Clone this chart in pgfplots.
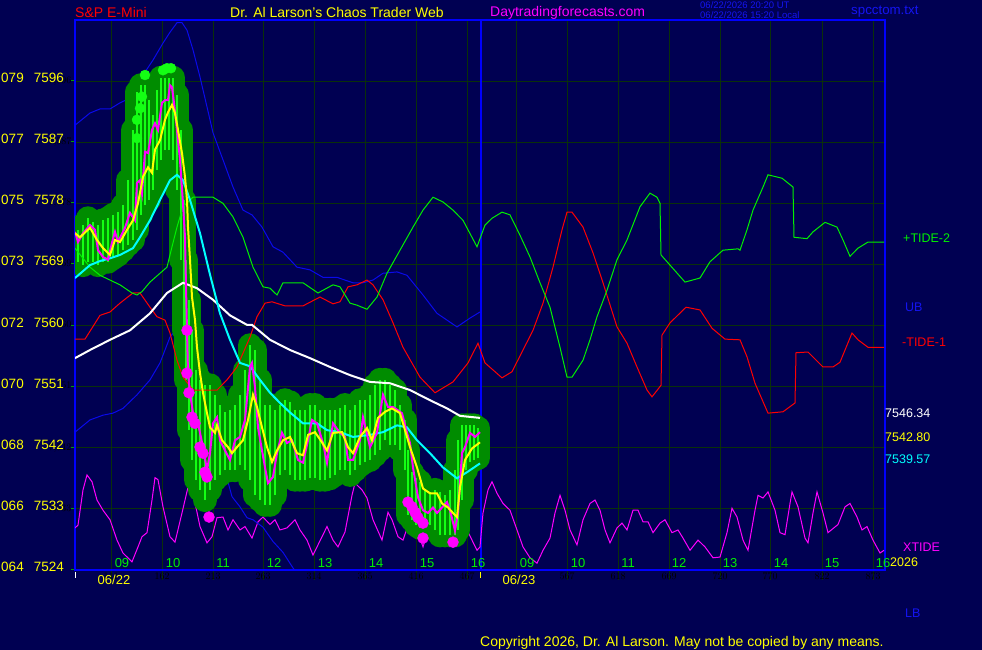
\documentclass[border=0pt]{standalone}
\usepackage{fontspec}
\setmainfont{Liberation Sans}
\usepackage{pgfplots}
\usepackage{pgfplotstable}
\pgfplotsset{compat=1.18}
\definecolor{bg}{RGB}{0,0,82}
\definecolor{gridc}{RGB}{10,48,10}
\definecolor{axblue}{RGB}{0,0,255}
\definecolor{bandblue}{RGB}{10,10,235}
\definecolor{txtblue}{RGB}{20,20,240}
\definecolor{dkg}{RGB}{0,140,0}
\definecolor{brg}{RGB}{20,255,20}
\definecolor{tideg}{RGB}{0,240,0}
\definecolor{tider}{RGB}{255,0,0}
\definecolor{mag}{RGB}{255,0,255}
\definecolor{yel}{RGB}{255,255,0}
\definecolor{cya}{RGB}{0,255,255}
\definecolor{tickg}{RGB}{0,160,0}

\pgfplotstableread{
x y
75 7589.5
90 7591.3
100 7591.9
110 7591.9
120 7592.8
130 7593.5
133 7594.4
143 7596.9
153 7599.1
163 7601.6
170 7603.2
177 7604.6
182 7604.6
187 7603.5
193 7600.6
200 7596.6
207 7592.2
213 7588.4
223 7584.4
233 7580.4
243 7577.0
252 7576.3
262 7574.5
273 7571.6
283 7570.8
297 7568.6
310 7568.2
323 7567.1
337 7567.1
353 7566.3
363 7566.3
373 7566.7
383 7567.7
397 7567.9
407 7567.4
423 7564.5
437 7561.8
457 7559.8
470 7561.1
480 7562.0
}\ubtab

\pgfplotstableread{
x y
75 7544.3
90 7546.1
103 7546.8
113 7547.1
123 7547.8
137 7549.8
150 7552.0
160 7554.5
170 7558.3
177 7559.6
182 7559.6
195 7554.9
210 7547.5
222 7540.2
232 7534.8
240 7533.3
247 7531.7
253 7531.4
263 7530.3
273 7528.2
283 7526.6
293 7524.3
297 7523.5
}\lbtab

\pgfplotstableread{
x y
75 7571.4
90 7568.6
100 7567.4
110 7566.7
120 7566.0
132 7564.8
137 7564.5
142 7565.0
150 7566.4
160 7567.7
167 7568.6
172 7571.6
177 7574.5
183 7577.5
193 7578.9
213 7578.9
223 7578.0
233 7576.0
243 7573.0
253 7568.6
263 7565.7
270 7565.5
277 7564.5
283 7566.3
303 7566.3
318 7564.8
333 7566.0
340 7565.7
350 7563.3
357 7563.0
367 7562.4
377 7564.2
387 7567.7
400 7571.1
413 7574.5
423 7577.0
433 7578.9
443 7578.2
453 7577.0
463 7575.5
477 7571.6
482 7573.6
485 7574.8
492 7575.8
502 7576.7
510 7576.3
520 7573.3
530 7570.1
540 7566.3
550 7562.7
560 7556.8
567 7552.4
572 7552.4
583 7554.9
590 7557.9
597 7561.3
607 7565.2
617 7569.7
627 7572.6
640 7577.5
650 7579.5
657 7578.9
660 7578.0
661 7570.4
670 7568.9
685 7566.4
700 7567.0
710 7569.4
723 7571.1
738 7571.3
740 7571.1
747 7574.1
753 7577.0
763 7580.4
768 7582.2
782 7581.7
793 7580.4
794 7573.0
807 7572.8
813 7573.8
825 7575.2
837 7574.5
843 7572.6
850 7570.2
858 7571.4
868 7572.3
884 7572.3
}\tidetwo

\pgfplotstableread{
x y
75 7558.0
85 7558.0
100 7561.5
110 7562.0
120 7563.3
133 7564.8
140 7564.8
150 7562.7
157 7561.3
165 7560.8
170 7558.9
177 7554.9
183 7552.4
193 7550.5
217 7550.5
227 7552.0
237 7553.9
250 7558.3
257 7561.3
265 7563.3
272 7563.5
285 7562.9
303 7562.9
320 7564.2
333 7563.2
340 7563.5
348 7565.7
357 7566.0
367 7566.7
373 7566.0
383 7563.8
393 7560.4
403 7556.8
420 7552.4
435 7550.1
453 7551.7
468 7554.5
478 7557.4
485 7554.5
502 7552.3
512 7553.2
523 7556.4
533 7559.3
543 7563.3
553 7568.6
562 7574.1
567 7576.7
572 7576.7
583 7574.5
593 7570.7
603 7566.3
617 7559.8
627 7557.4
637 7553.9
647 7550.5
652 7549.5
661 7551.2
662 7558.6
670 7560.4
686 7562.7
700 7562.3
712 7559.6
725 7558.0
740 7557.9
747 7555.4
755 7551.5
768 7547.1
783 7547.3
795 7548.6
796 7556.0
808 7556.1
823 7553.9
833 7553.9
840 7554.6
852 7558.9
858 7557.9
868 7556.8
884 7556.8
}\tideone

\pgfplotstableread{
x y
75 7555.2
90 7556.4
110 7557.9
130 7559.3
150 7561.8
167 7564.8
183 7566.3
197 7565.5
213 7563.8
230 7561.5
247 7560.1
252 7560.1
270 7557.9
290 7556.4
310 7555.2
330 7553.9
350 7552.7
370 7551.7
390 7551.5
410 7550.5
430 7549.0
447 7547.8
460 7546.7
480 7546.4
}\whitetab

\pgfplotstableread{
x y
75 7567.0
90 7568.9
100 7569.5
110 7569.9
120 7570.4
133 7571.4
140 7573.0
150 7575.5
160 7578.5
170 7581.4
177 7582.2
183 7581.4
190 7578.5
200 7573.6
210 7567.5
220 7561.8
230 7557.9
240 7554.5
250 7554.0
260 7552.0
270 7550.1
280 7548.6
290 7547.2
303 7545.6
317 7545.6
327 7544.6
340 7544.3
353 7543.6
370 7543.9
383 7544.3
397 7545.3
407 7545.0
417 7543.1
430 7541.2
443 7539.1
457 7537.5
467 7538.4
480 7539.7
}\cyantab

\pgfplotstableread{
x y
75 7573.6
80 7573.0
90 7574.4
97 7572.6
103 7571.4
110 7570.4
115 7572.6
120 7572.3
127 7574.1
133 7575.5
138 7578.0
143 7581.9
148 7583.3
152 7582.5
155 7585.9
160 7587.3
165 7590.3
168 7591.4
172 7592.5
175 7591.3
178 7588.8
182 7585.4
185 7581.9
187 7578.5
188 7574.5
190 7569.7
192 7564.2
195 7560.8
197 7556.8
200 7553.0
203 7550.1
207 7547.1
210 7545.0
215 7544.2
217 7545.3
222 7543.1
228 7542.1
232 7541.2
237 7542.1
243 7543.1
248 7546.1
253 7549.8
257 7548.0
262 7545.0
267 7542.1
272 7539.9
277 7541.6
283 7543.1
290 7543.6
297 7541.2
303 7540.9
308 7543.9
315 7544.3
322 7542.8
327 7541.6
333 7544.2
342 7544.3
348 7542.1
353 7541.2
360 7543.6
367 7544.9
372 7543.1
378 7546.4
385 7547.3
392 7547.8
400 7547.1
405 7544.6
410 7542.1
417 7539.1
423 7536.0
430 7535.3
437 7535.3
442 7533.8
448 7533.2
453 7532.4
457 7531.8
460 7536.2
465 7540.2
472 7541.9
480 7542.8
}\yeltab

\pgfplotstableread{
x y
75 7573.8
78 7572.3
83 7573.6
90 7574.8
95 7574.1
98 7571.1
103 7570.1
108 7569.7
112 7572.2
115 7573.8
118 7572.3
125 7574.4
130 7576.6
135 7575.5
137 7581.0
140 7581.4
142 7579.5
145 7585.6
148 7585.4
152 7588.8
155 7589.8
158 7588.8
162 7592.8
165 7593.2
168 7593.2
170 7595.4
172 7595.1
174 7592.8
177 7588.8
180 7584.4
183 7578.0
185 7573.0
186 7565.7
187 7559.3
188 7553.0
190 7550.1
193 7547.1
198 7545.6
203 7542.1
207 7538.7
210 7541.2
213 7545.6
217 7546.5
220 7543.1
225 7541.6
230 7540.2
235 7543.1
240 7543.6
245 7546.1
250 7553.9
252 7554.5
255 7550.9
258 7545.0
265 7539.1
268 7536.8
273 7537.7
277 7541.2
282 7544.2
287 7542.7
292 7543.1
298 7540.2
303 7539.8
308 7543.1
312 7546.1
317 7545.6
323 7542.7
327 7539.8
333 7545.6
340 7544.2
345 7543.6
348 7540.2
353 7540.2
360 7543.1
363 7546.5
370 7542.1
377 7544.2
383 7549.8
388 7548.0
393 7548.0
402 7547.1
407 7544.2
410 7542.7
413 7539.1
418 7534.7
423 7532.8
428 7532.4
433 7533.2
437 7532.4
442 7533.2
447 7534.0
450 7532.8
455 7529.8
458 7532.4
462 7541.2
465 7542.1
470 7544.2
475 7543.6
480 7544.3
}\pricetab

\pgfplotstableread{
x hi lo
78 7574.1 7569.4
83 7574.8 7568.9
88 7575.8 7569.4
93 7575.2 7569.4
98 7574.8 7568.9
103 7575.5 7569.4
108 7575.8 7569.4
113 7576.3 7569.9
118 7576.7 7570.4
123 7577.7 7571.1
128 7581.4 7571.9
133 7588.8 7572.6
137 7594.4 7574.1
141 7595.4 7576.3
145 7595.4 7577.7
149 7593.2 7578.5
153 7591.0 7580.0
157 7594.7 7582.9
161 7596.5 7584.4
165 7596.5 7585.9
169 7596.5 7585.9
173 7596.5 7584.4
177 7594.0 7580.0
181 7588.8 7569.7
184 7578.5 7559.3
186 7569.7 7552.0
189 7563.8 7544.6
192 7559.3 7540.2
196 7553.4 7537.3
200 7552.0 7535.8
205 7551.2 7534.3
210 7551.2 7535.8
215 7549.8 7537.3
220 7548.3 7538.0
225 7547.3 7538.7
230 7547.6 7538.7
235 7548.3 7538.7
240 7549.8 7539.4
245 7553.4 7538.7
250 7557.1 7537.3
255 7556.4 7535.0
260 7552.0 7534.3
265 7548.3 7533.6
270 7548.3 7533.6
275 7547.6 7535.0
280 7548.3 7538.0
285 7549.0 7538.7
290 7548.7 7538.0
295 7547.6 7537.3
300 7547.6 7537.3
305 7547.6 7537.3
310 7548.3 7537.5
315 7548.3 7537.5
320 7547.6 7537.3
325 7547.6 7537.3
330 7547.6 7537.5
335 7547.6 7538.0
340 7547.8 7538.7
345 7548.3 7538.7
350 7547.6 7538.0
355 7548.3 7538.7
360 7549.0 7539.4
365 7549.0 7539.9
370 7549.8 7540.2
375 7551.2 7540.9
380 7552.0 7541.7
385 7552.0 7543.1
390 7551.2 7542.4
395 7550.5 7542.4
400 7548.3 7541.7
405 7546.1 7538.7
408 7541.7 7532.1
412 7538.4 7531.4
416 7537.5 7530.6
420 7537.0 7530.2
425 7535.8 7530.6
430 7535.5 7530.6
435 7535.8 7529.9
440 7535.5 7529.1
445 7535.0 7529.1
450 7535.8 7529.1
455 7538.7 7529.1
458 7543.1 7529.9
462 7545.3 7534.3
466 7545.3 7538.7
470 7545.3 7539.9
474 7545.3 7540.2
478 7544.9 7540.5
}\bars

\pgfplotstableread{
x y
187 7559.3
187 7553.0
189 7550.1
192 7546.5
195 7545.6
200 7542.1
203 7541.2
205 7538.4
207 7537.7
209 7531.8
408 7534.0
412 7533.3
415 7532.5
418 7531.7
423 7530.9
423 7528.7
453 7528.1
}\magdots

\pgfplotstableread{
x y
145 7596.9
142 7593.7
140 7592.0
137 7590.3
137 7587.6
163 7597.6
167 7597.9
171 7597.9
}\grndots

\pgfplotstableread{
x y
75 7530.2
78 7530.6
83 7535.8
87 7538.0
92 7537.0
97 7534.3
103 7532.8
110 7531.4
117 7528.4
123 7526.5
132 7525.2
138 7527.4
142 7528.9
147 7529.5
152 7534.3
155 7537.6
158 7537.3
163 7533.3
170 7528.9
175 7528.1
182 7532.4
188 7536.2
193 7535.3
200 7530.4
207 7528.0
212 7528.9
217 7531.7
223 7531.8
228 7529.9
233 7531.4
240 7529.9
245 7530.4
252 7528.7
258 7531.1
263 7531.8
270 7530.7
275 7531.4
280 7529.9
287 7530.2
295 7531.4
300 7529.9
307 7528.4
313 7526.2
322 7528.9
327 7530.4
333 7528.4
338 7527.4
345 7529.6
352 7535.0
355 7536.8
362 7535.8
367 7534.6
373 7531.4
382 7528.4
388 7532.5
392 7531.4
398 7528.9
403 7528.4
410 7531.4
415 7530.9
423 7527.4
430 7530.6
445 7532.1
455 7531.4
467 7529.9
477 7526.9
480 7527.4
483 7532.4
488 7535.8
492 7537.0
497 7535.3
503 7533.8
510 7532.8
517 7529.9
523 7527.4
530 7525.8
537 7525.0
543 7526.9
550 7528.7
555 7532.4
560 7535.0
565 7532.8
570 7529.9
577 7527.7
583 7531.4
590 7533.8
595 7534.3
600 7532.8
605 7529.9
610 7528.0
617 7530.2
622 7530.9
627 7529.9
633 7532.8
638 7532.8
643 7531.1
648 7531.1
653 7529.5
660 7530.9
665 7531.4
672 7529.5
678 7529.9
683 7528.7
690 7526.9
698 7528.4
705 7527.4
713 7525.8
720 7525.9
727 7529.5
732 7533.1
737 7531.8
743 7528.4
748 7526.9
755 7532.8
758 7535.0
763 7534.6
768 7535.5
775 7532.8
780 7529.5
785 7529.2
790 7533.8
792 7535.5
798 7533.3
805 7528.7
808 7528.0
813 7532.4
817 7535.5
823 7532.4
828 7529.5
838 7530.7
845 7533.3
850 7533.8
857 7531.8
862 7529.9
867 7530.4
873 7528.4
880 7526.5
884 7526.9
}\xtide

\begin{document}
\begin{tikzpicture}[x=1pt,y=1pt]
\useasboundingbox (0,0) rectangle (982,650);
\fill[bg] (0,0) rectangle (982,650);
% grid extensions below axis
\foreach \gx in {111,162,213,263,314,365,416,467,516,567,618,669,720,770,822,873}
  \draw[gridc, line width=1pt] (\gx,80) -- (\gx,70);
\foreach \gy in {81,142,203,264,326,387,448,509,570}
  \draw[tickg, line width=1pt] (71,650-\gy) -- (75,650-\gy);
\draw[white, line width=1pt] (75.5,78) -- (75.5,72);
\draw[yel, line width=1pt] (480.5,78) -- (480.5,72);

\begin{axis}[
  at={(75pt,80pt)}, anchor=south west, scale only axis,
  width=810pt, height=550pt,
  xmin=75, xmax=885, ymin=7524, ymax=7605,
  xtick={111,162,213,263,314,365,416,467,516,567,618,669,720,770,822,873},
  ytick={7533,7542,7551,7560,7569,7578,7587,7596},
  xticklabel={}, yticklabel={},
  tick style={draw=none},
  grid=major, grid style={draw=gridc, line width=1pt},
  axis line style={draw=axblue, line width=2.5pt},
  clip=true,
]
\draw[axblue, line width=2pt] (axis cs:480.5,7524) -- (axis cs:480.5,7605);
\addplot[mag, line width=1pt, mark=none] table {\xtide};
\addplot[bandblue, line width=1pt, mark=none] table {\ubtab};
\addplot[bandblue, line width=1pt, mark=none] table {\lbtab};
% blobs
\addplot[draw=none, mark=none, error bars/.cd, y dir=plus, y explicit, error mark=none,
  error bar style={draw=dkg, line width=24pt, line cap=round}]
  table[x=x, y=lo, y error expr=\thisrow{hi}-\thisrow{lo}] {\bars};
\addplot[draw=none, mark=none, error bars/.cd, y dir=plus, y explicit, error mark=none,
  error bar style={draw=brg, line width=1.5pt}]
  table[x=x, y=lo, y error expr=\thisrow{hi}-\thisrow{lo}] {\bars};
\addplot[only marks, mark=*, mark size=5pt, mark options={fill=brg, draw=brg}] table {\grndots};
\addplot[tider, line width=1pt, mark=none] table {\tideone};
\addplot[tideg, line width=1pt, mark=none] table {\tidetwo};
\addplot[white, line width=2pt, mark=none] table {\whitetab};
\addplot[cya, line width=2pt, mark=none] table {\cyantab};
\addplot[mag, line width=2pt, mark=none] table {\pricetab};
\addplot[yel, line width=2pt, mark=none] table {\yeltab};
\addplot[only marks, mark=*, mark size=5.5pt, mark options={fill=mag, draw=mag}] table {\magdots};
\end{axis}

\begin{scope}[every node/.style={inner sep=0pt, font=\fontsize{12.5pt}{15pt}\selectfont}]
% title line
\node[anchor=west, text=red, font=\fontsize{14pt}{16pt}\selectfont] at (75,637) {S\&P E-Mini};
\node[anchor=west, text=yel, font=\fontsize{14pt}{16pt}\selectfont] at (230,637) {Dr. Al Larson's Chaos Trader Web};
\node[anchor=west, text=mag, font=\fontsize{14pt}{16pt}\selectfont] at (490,637) {Daytradingforecasts.com};
\node[anchor=west, text=txtblue, font=\fontsize{9.5pt}{10pt}\selectfont] at (700,645) {06/22/2026 20:20 UT};
\node[anchor=west, text=txtblue, font=\fontsize{9.5pt}{10pt}\selectfont] at (700,635) {06/22/2026 15:20 Local};
\node[anchor=west, text=txtblue, font=\fontsize{13.3pt}{15pt}\selectfont] at (851,638) {spcctom.txt};
% y labels
\foreach \py/\a/\b in {81/079/7596,142/077/7587,203/075/7578,264/073/7569,326/072/7560,387/070/7551,448/068/7542,509/066/7533,570/064/7524}{
  \node[anchor=east, text=yel, font=\fontsize{13.5pt}{15pt}\selectfont] at (64,653-\py) {\a\hspace{10pt}\b};
}
% x labels
\foreach \px/\t in {122/09,173/10,223/11,274/12,325/13,376/14,427/15,478/16,527/09,578/10,628/11,679/12,730/13,781/14,832/15,883/16}{
  \node[text=tideg, font=\fontsize{13pt}{15pt}\selectfont] at (\px,87) {\t};
}
\node[anchor=west, text=yel] at (890,88) {2026};
\node[text=yel, font=\fontsize{13pt}{15pt}\selectfont] at (114,70) {06/22};
\node[text=yel, font=\fontsize{13pt}{15pt}\selectfont] at (519,70) {06/23};
% right labels
\node[anchor=west, text=tideg] at (903,412) {+TIDE-2};
\node[anchor=west, text=txtblue] at (905,343) {UB};
\node[anchor=west, text=tider] at (902,308) {-TIDE-1};
\node[anchor=west, text=white] at (885,237) {7546.34};
\node[anchor=west, text=yel] at (885,213) {7542.80};
\node[anchor=west, text=cya] at (885,191) {7539.57};
\node[anchor=west, text=mag] at (903,103) {XTIDE};
\node[anchor=west, text=txtblue] at (905,37) {LB};
\node[anchor=west, text=yel, font=\fontsize{14pt}{16pt}\selectfont] at (480,7) {Copyright 2026, Dr. Al Larson. May not be copied by any means.};
\end{scope}
\end{tikzpicture}
\end{document}
